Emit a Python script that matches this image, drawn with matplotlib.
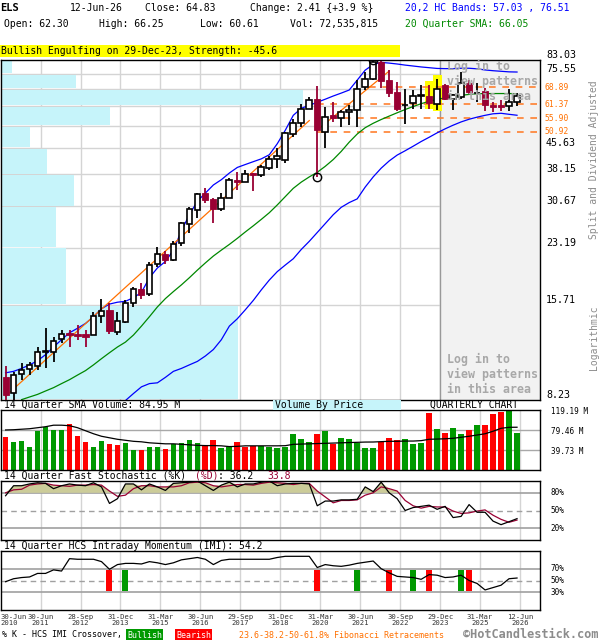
import numpy as np
import matplotlib
matplotlib.use('Agg')
import matplotlib.pyplot as plt
from matplotlib.patches import Rectangle
from matplotlib.transforms import blended_transform_factory as blend

plt.rcParams['font.family'] = ['DejaVu Sans Mono', 'DejaVu Sans']

# ---- quarterly data, 30-Jun-2010 .. 12-Jun-2026 (65 quarters) ----
opens = [9.64, 8.61, 9.80, 10.13, 10.38, 11.37, 11.44, 12.48, 12.99, 12.90,
         12.87, 12.84, 14.60, 15.17, 13.09, 14.00, 15.88, 17.46, 16.88, 20.70,
         22.20, 21.32, 23.90, 27.23, 29.95, 33.60, 32.28, 30.20, 32.50, 36.73,
         36.20, 38.50, 37.90, 39.90, 42.30, 42.09, 50.16, 54.20, 59.70, 63.50,
         50.95, 57.10, 56.00, 58.20, 59.08, 68.90, 72.80, 82.10, 72.45, 66.80,
         61.00, 62.00, 65.00, 65.00, 61.50, 70.00, 63.90, 64.70, 71.10, 66.30,
         67.20, 61.30, 61.30, 60.70, 62.30]
highs = [10.37, 9.97, 10.59, 10.68, 11.84, 13.40, 12.64, 13.24, 13.24, 13.70,
         13.24, 14.99, 16.30, 15.88, 14.99, 16.24, 17.80, 18.27, 21.07, 23.34,
         22.60, 24.30, 27.66, 30.60, 33.60, 34.70, 32.40, 33.60, 37.15, 38.87,
         39.30, 38.60, 40.70, 43.30, 45.60, 50.95, 55.50, 61.70, 64.70, 69.40,
         60.30, 62.50, 59.30, 61.10, 72.45, 76.70, 83.03, 82.50, 77.50, 71.50,
         68.20, 67.80, 70.00, 70.00, 72.90, 70.50, 66.10, 76.70, 72.50, 70.90,
         68.50, 62.50, 63.20, 68.20, 66.25]
lows = [8.25, 8.25, 9.43, 9.74, 10.09, 10.20, 10.68, 12.10, 11.84, 12.37,
        11.84, 12.79, 13.85, 12.87, 12.79, 13.85, 15.50, 16.30, 16.70, 20.39,
        20.77, 21.20, 23.50, 25.60, 28.30, 31.50, 27.47, 29.80, 32.40, 34.30,
        36.20, 34.10, 37.60, 39.30, 39.80, 41.20, 49.30, 52.80, 59.50, 37.60,
        45.60, 54.60, 52.80, 53.40, 52.80, 67.50, 72.40, 68.60, 64.70, 58.80,
        53.90, 59.40, 59.70, 59.70, 59.10, 63.20, 59.10, 63.90, 66.10, 62.50,
        58.70, 58.20, 58.70, 58.70, 60.61]
closes = [8.51, 9.75, 10.09, 10.43, 11.40, 11.50, 12.30, 12.93, 12.79, 12.73,
          12.64, 14.57, 15.05, 13.17, 14.07, 15.88, 17.46, 16.80, 20.60, 22.20,
          21.32, 23.70, 27.36, 30.10, 33.36, 32.06, 30.15, 32.60, 36.73, 36.30,
          38.30, 37.90, 40.05, 42.40, 43.10, 50.40, 54.20, 59.70, 63.24, 51.58,
          56.50, 56.00, 58.20, 59.08, 68.20, 72.80, 82.10, 72.00, 66.50, 59.50,
          61.30, 65.00, 65.40, 61.90, 68.20, 63.90, 65.30, 70.80, 66.60, 66.50,
          61.10, 60.50, 60.50, 62.50, 64.83]

band_upper = [9.9, 10.0, 10.2, 10.45, 10.75, 11.2, 11.8, 12.4, 13.0, 13.4,
              13.85, 14.5, 15.3, 15.8, 16.0, 16.1, 16.5, 17.1, 18.9, 20.2,
              21.1, 22.8, 26.0, 29.0, 31.8, 33.6, 35.5, 36.8, 38.5, 40.0,
              40.8, 41.6, 42.4, 43.6, 47.0, 51.5, 57.0, 59.8, 61.0, 62.3,
              63.6, 65.0, 66.3, 67.7, 72.4, 77.5, 80.5, 81.7, 81.3, 80.8,
              80.2, 79.7, 79.2, 78.8, 78.4, 78.3, 78.3, 78.5, 78.5, 78.2,
              77.6, 77.2, 76.9, 76.6, 76.51]
band_lower = [np.nan] * 15 + [
              8.2, 8.6, 9.0, 9.2, 9.25, 9.6, 10.0, 10.2, 10.45, 10.7,
              11.1, 11.6, 12.4, 13.6, 14.3, 15.2, 16.2, 17.4, 18.6, 19.7,
              20.6, 21.5, 22.9, 24.2, 25.7, 27.3, 29.0, 30.5, 31.5, 32.3,
              35.0, 37.5, 39.8, 41.8, 43.5, 44.8, 46.2, 47.7, 49.1, 50.6,
              52.0, 53.3, 54.5, 55.5, 56.3, 57.0, 57.6, 57.8, 57.4, 57.03]
sma20 = [np.nan, np.nan,
         8.25, 8.4, 8.55, 8.75, 8.95, 9.2, 9.45, 9.75, 10.05, 10.45,
         10.9, 11.35, 11.8, 12.2, 12.8, 13.6, 14.5, 15.5, 16.4, 17.2,
         18.0, 18.9, 19.9, 20.9, 21.9, 22.8, 23.7, 24.7, 25.8, 26.9,
         28.1, 29.4, 31.0, 32.8, 34.7, 36.2, 37.5, 38.7, 40.3, 42.2,
         44.6, 47.5, 50.2, 52.4, 54.0, 55.4, 56.7, 58.0, 59.3, 60.5,
         61.7, 62.7, 63.5, 64.2, 64.8, 65.3, 65.7, 66.0, 66.1, 66.1,
         66.1, 66.1, 66.05]

# orange trend segments: (start index, start price, end index, end price)
trend_segments = [(0, 8.45, 38, 55.0), (39, 51.6, 48, 77.0)]
fib_levels = [68.89, 61.37, 55.90, 50.92]
fib_start = [45.5, 39, 39, 39]

price_ticks = [8.23, 15.71, 23.19, 30.67, 38.15, 45.63, 53.11, 60.59, 68.07, 75.55, 83.03]
price_labels = ['8.23', '15.71', '23.19', '30.67', '38.15', '45.63', '', '', '', '75.55', '83.03']
vol_by_price = [238, 65, 55, 73, 46, 29, 110, 303, 75, 11]  # per band, bottom to top

volume = [66.2, 55.6, 57.6, 46.4, 78.1, 86.1, 78.8, 80.1, 91.4, 67.5,
          55.6, 46.4, 57.6, 51.7, 49.7, 53.6, 39.7, 39.7, 45.0, 45.7,
          41.7, 51.0, 53.6, 59.6, 53.6, 49.0, 59.6, 43.7, 46.4, 55.6,
          46.4, 48.3, 48.3, 45.7, 43.7, 45.7, 71.5, 62.2, 55.6, 71.5,
          78.1, 51.7, 63.6, 62.2, 53.6, 43.7, 43.7, 56.3, 63.6, 58.9,
          62.2, 51.7, 53.6, 113.9, 82.1, 73.5, 83.4, 71.5, 79.5, 90.1,
          90.1, 111.3, 115.9, 119.2, 72.54]
vol_dir = "RGGGGGGGRRRGGRRGGRGGRGGGGRRGGRRRGGGGGGGRGRGGGGGRRRGGGRGRGGRGRRRGG"
vol_sma = [79.5, 80, 81, 82, 84, 86, 89, 89, 88, 84,
           78, 72, 67, 64, 61, 59, 57, 56, 54, 53,
           52, 52, 51, 50, 49, 48.5, 48.5, 48, 46.5, 47,
           48, 48, 48, 48, 48, 48.3, 51, 51.5, 52, 52.5,
           53, 53.5, 54, 54.5, 55, 55.5, 55.6, 56.3, 57, 57,
           57.5, 57.5, 58.3, 61, 61.5, 62, 63, 65, 67, 69.5,
           72, 77, 82.8, 84.8, 84.95]

stoch_k = [75, 92, 92, 95, 97, 96, 87, 92, 95, 93, 92, 97, 90, 62, 70, 95, 95, 85, 95, 90,
           84, 96, 97, 98, 100, 92, 84, 93, 98, 90, 95, 95, 98, 100, 92, 95, 96, 96, 95, 58,
           66, 66, 68, 68, 69, 90, 82, 98, 80, 70, 50, 55, 57, 59, 52, 57, 38, 40, 60, 47,
           47, 32, 26, 31, 36.2]
stoch_d = [80, 85, 86, 93, 95, 96, 93, 92, 91, 93, 93, 94, 93, 83, 74, 76, 87, 92, 92, 90,
           90, 90, 92, 97, 98, 97, 92, 90, 92, 94, 94, 93, 96, 98, 97, 96, 94, 96, 96, 83,
           73, 63, 67, 67, 68, 76, 80, 90, 87, 83, 67, 58, 54, 57, 56, 56, 49, 45, 46, 49,
           51, 42, 35, 30, 33.8]
imi = [48, 53, 55, 56, 62, 62, 68, 66, 87, 86, 86, 86, 82, 69, 77, 79, 79, 78, 82, 80,
       77, 80, 85, 87, 89, 86, 77, 84, 86, 86, 86, 86, 86, 86, 89, 91, 91, 91, 91, 72,
       77, 75, 74, 76, 79, 81, 83, 70, 63, 57, 56, 55, 52, 60, 59, 55, 56, 59, 50, 45,
       34, 38, 42, 53, 54.2]
imi_bull = [15, 44, 51, 57]
imi_bear = [13, 39, 48, 53, 58]

x_labels = ['30-Jun\n2011', '28-Sep\n2012', '31-Dec\n2013', '31-Mar\n2015', '30-Jun\n2016',
            '29-Sep\n2017', '31-Dec\n2018', '31-Mar\n2020', '30-Jun\n2021', '30-Sep\n2022',
            '29-Dec\n2023', '31-Mar\n2025', '12-Jun\n2026']
label_idx = [4, 9, 14, 19, 24, 29, 34, 39, 44, 49, 54, 59, 64]

RED = '#990033'
GRID = '#d4d4d4'
x = np.arange(len(closes))
grid_x = [i + 0.375 for i in label_idx]
XL = (-0.625, 66.875)

fig = plt.figure(figsize=(6, 6.4), dpi=100)


def box(x0, y0, x1, y1):
    return [x0 / 600, 1 - y1 / 640, (x1 - x0) / 600, (y1 - y0) / 640]


def ftext(px, py, s, **kw):
    kw.setdefault('va', 'center')
    kw.setdefault('fontsize', 7)
    return fig.text(px / 600, 1 - py / 640, s, **kw)


ax = fig.add_axes(box(0.6, 60, 540, 400))
axv = fig.add_axes(box(0.6, 410, 540, 470))
axs = fig.add_axes(box(0.6, 481, 540, 540))
axi = fig.add_axes(box(0.6, 551, 540, 610))

for a in (ax, axv, axs, axi):
    a.set_xlim(*XL)
    a.set_xticks([])
    a.set_yticks([])
    for sp in a.spines.values():
        sp.set_color('black')
        sp.set_linewidth(1)
    for gx in grid_x:
        a.axvline(gx, color=GRID, lw=1, zorder=0)

# ---------------- main price chart ----------------
ax.set_yscale('log')
ax.set_ylim(price_ticks[0], price_ticks[-1])
ax.minorticks_off()
ax.set_yticks([])
for p in price_ticks[1:-1]:
    ax.axhline(p, color=GRID, lw=1, zorder=0)

# logged-out area
ax.axvspan(grid_x[10], XL[1], color='#f2f2f2', zorder=0)
ax.axvline(grid_x[10], color='#999999', lw=1, zorder=0.5)

# volume by price
ytr = blend(ax.transAxes, ax.transData)
vmax = max(vol_by_price)
for k, v in enumerate(vol_by_price):
    ax.add_patch(Rectangle((0, price_ticks[k] * 1.006), v / vmax * 303 / 540,
                           price_ticks[k + 1] / 1.006 - price_ticks[k] * 1.006,
                           transform=ytr, color='#c6f4fa', lw=0, zorder=0.3))

# pattern highlight
for i in (53, 54):
    ax.add_patch(Rectangle((i - 0.55, lows[i] * 0.995), 1.1, highs[i] * 1.03 - lows[i] * 0.995,
                           color='#ffff00', lw=0, zorder=1))

# bands, SMA, trend lines
ax.plot(x, band_upper, color='#0000ff', lw=0.9, zorder=2)
ax.plot(x, band_lower, color='#0000ff', lw=0.9, zorder=2)
ax.plot(x, sma20, color='#008800', lw=0.9, zorder=2)
for i0, p0, i1, p1 in trend_segments:
    ax.plot([i0, i1], [p0, p1], color='#ff7000', lw=0.9, zorder=2)
for lev, st in zip(fib_levels, fib_start):
    ax.plot([st, XL[1]], [lev, lev], color='#ff8030', lw=1.2, ls=(0, (4, 4)), zorder=1.5)

# candles
for i in x:
    o, h, l, c = opens[i], highs[i], lows[i], closes[i]
    up = c >= o
    col = 'black' if up else RED
    ax.plot([i, i], [l, h], color=col, lw=1.3, zorder=3, solid_capstyle='butt')
    lo, hi = min(o, c), max(o, c)
    if up:
        ax.add_patch(Rectangle((i - 0.36, lo), 0.72, hi - lo, facecolor='white',
                               edgecolor='black', lw=1.2, zorder=4))
    else:
        ax.add_patch(Rectangle((i - 0.38, lo), 0.76, hi - lo, facecolor=RED,
                               edgecolor=RED, lw=0.6, zorder=4))

# high / low circles
ax.plot([46, 39], [highs[46], lows[39]], 'o', ms=6, mfc='none', mec='black', mew=1, zorder=5)

# price labels
for p, s in zip(price_ticks, price_labels):
    if s:
        ax.text(1.011, p, s, transform=ytr, fontsize=7.2, va='bottom', ha='left')
for lev in fib_levels:
    ax.text(1.008, lev, '%.2f' % lev, transform=ytr, fontsize=5.8, va='center',
            ha='left', color='#ff7000')

login = dict(fontsize=8.4, fontweight='bold', color='#a8a8a8', ha='left', va='center',
             transform=ax.transAxes, zorder=6)
for ytop in (66.7, 359.3):
    for n, line in enumerate(['Log in to', 'view patterns', 'in this area']):
        ax.text(446.5 / 540, 1 - (ytop + 15 * n - 60) / 340, line, **login)

# ---------------- volume ----------------
axv.set_ylim(0, 119.19)
for lv in (39.73, 79.46):
    axv.axhline(lv, color='#a8a8a8', lw=1, zorder=0.5)
axv.bar(x, volume, width=0.72, color=['#ff0000' if d == 'R' else '#009900' for d in vol_dir],
        zorder=2)
axv.plot(x, vol_sma, color='black', lw=0.9, zorder=3)
vtr = blend(axv.transAxes, axv.transData)
for lv, s in ((119.19, '119.19 M'), (79.46, '79.46 M'), (39.73, '39.73 M')):
    axv.text(1.02, lv - 3.5, s, transform=vtr, fontsize=5.5, va='center')

# ---------------- stochastic ----------------
axs.set_ylim(0, 100)
for lv in (80, 20):
    axs.axhline(lv, color='#a0a0a0', lw=1.2, zorder=0.5)
axs.axhline(50, color='#a0a0a0', lw=1, ls=(0, (4, 3)), zorder=0.5)
upper_env = np.maximum(stoch_k, stoch_d)
axs.fill_between(x, upper_env, 80, where=upper_env > 80, interpolate=True,
                 color='#cccc99', lw=0, zorder=1)
axs.plot(x, stoch_d, color=RED, lw=0.9, zorder=2)
axs.plot(x, stoch_k, color='black', lw=0.9, zorder=3)
str_ = blend(axs.transAxes, axs.transData)
for lv in (80, 50, 20):
    axs.text(1.02, lv, '%d%%' % lv, transform=str_, fontsize=5.5, va='center')

# ---------------- IMI ----------------
axi.set_ylim(0, 100)
for lv in (70, 30):
    axi.axhline(lv, color='#a0a0a0', lw=1.2, zorder=0.5)
axi.axhline(50, color='#a0a0a0', lw=1, ls=(0, (4, 3)), zorder=0.5)
axi.bar(imi_bull, [35] * len(imi_bull), bottom=32.5, width=0.75, color='#009900', zorder=1)
axi.bar(imi_bear, [35] * len(imi_bear), bottom=32.5, width=0.75, color='#ff0000', zorder=1)
axi.plot(x, imi, color='black', lw=0.9, zorder=3)
itr = blend(axi.transAxes, axi.transData)
for lv in (70, 50, 30):
    axi.text(1.02, lv, '%d%%' % lv, transform=itr, fontsize=5.5, va='center')

xtr = blend(axi.transData, axi.transAxes)
axi.text(XL[0], -0.17, '30-Jun\n2010', transform=xtr, fontsize=5.2, ha='left', va='center',
         linespacing=1.0, color='#333333')
for gx, s in zip(grid_x, x_labels):
    axi.text(gx, -0.17, s, transform=xtr, fontsize=5.2, ha='center', va='center',
             linespacing=1.0, color='#333333')

# ---------------- header / titles ----------------
ftext(0, 8, 'ELS', fontweight='bold', fontsize=7.5)
ftext(70, 8, '12-Jun-26')
ftext(145, 8, 'Close: 64.83')
ftext(250, 8, 'Change: 2.41 {+3.9 %}')
ftext(405, 8, '20,2 HC Bands: 57.03 , 76.51', color='#0000ff')
ftext(4.5, 24, 'Open: 62.30')
ftext(99, 24, 'High: 66.25')
ftext(200, 24, 'Low: 60.61')
ftext(290, 24, 'Vol: 72,535,815')
ftext(405, 24, '20 Quarter SMA: 66.05', color='#008800')

fig.patches.append(Rectangle((0, 1 - 57 / 640), 400 / 600, 12 / 640, transform=fig.transFigure,
                             color='#ffff00', lw=0, zorder=0))
ftext(1, 51, 'Bullish Engulfing on 29-Dec-23, Strength: -45.6')

ftext(594, 160, 'Split and Dividend Adjusted', rotation=90, ha='center', color='#8c8c8c')
ftext(594, 338, 'Logarithmic', rotation=90, ha='center', color='#8c8c8c')

ftext(4.5, 405, '14 Quarter SMA Volume: 84.95 M')
fig.patches.append(Rectangle((273 / 600, 1 - 410 / 640), 128 / 600, 10 / 640,
                             transform=fig.transFigure, color='#c6f4fa', lw=0, zorder=0))
ftext(275, 405, 'Volume By Price')
ftext(430, 405, 'QUARTERLY CHART')

ftext(4.5, 476, '14 Quarter Fast Stochastic (%K)')
ftext(195, 476, '(%D)', color=RED)
ftext(218, 476, ': 36.2')
ftext(267, 476, '33.8', color=RED)
ftext(4.5, 546, '14 Quarter HCS Intraday Momentum (IMI): 54.2')

ftext(1.5, 635, '% K - HCS IMI Crossover,', fontsize=6)
ftext(127, 635, 'Bullish', fontsize=6, color='white',
      bbox=dict(boxstyle='square,pad=0.15', fc='#009900', ec='none'))
ftext(176, 635, 'Bearish', fontsize=6, color='white',
      bbox=dict(boxstyle='square,pad=0.15', fc='#ff0000', ec='none'))
ftext(239, 635, '23.6-38.2-50-61.8% Fibonacci Retracements', fontsize=6, color='#ff7000')
ftext(463, 634, '\u00a9HotCandlestick.com', fontsize=8.6, fontweight='bold', color='#8c8c8c')

fig.savefig('out.png', dpi=100)
